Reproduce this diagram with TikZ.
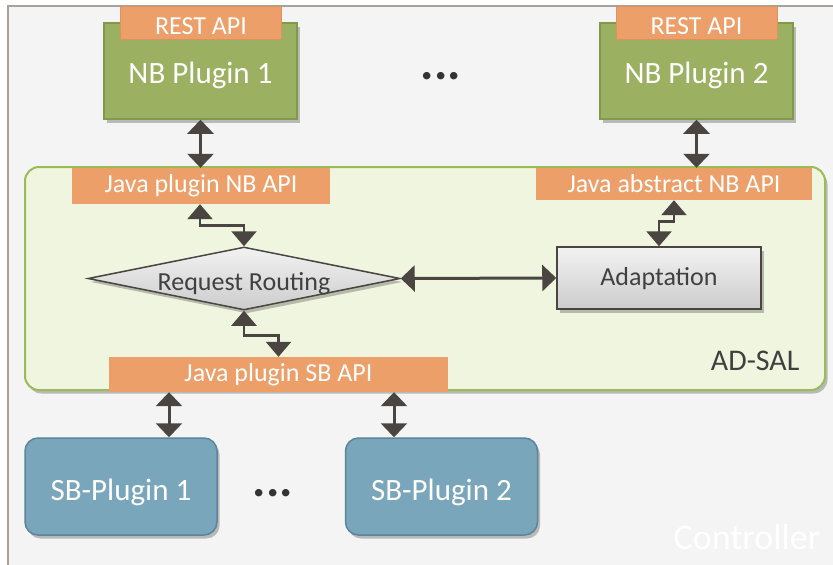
\documentclass[tikz,border=0pt]{standalone}
\usepackage{fontspec}
\setmainfont{Carlito}
\usetikzlibrary{arrows.meta,shapes.geometric,shadows,calc}
\definecolor{bgc}{HTML}{F4F4F4}
\definecolor{framec}{HTML}{A8A19B}
\definecolor{orangec}{HTML}{EC9F68}
\definecolor{nbfill}{HTML}{9BB060}
\definecolor{nbdraw}{HTML}{7F9A4C}
\definecolor{adfill}{HTML}{EFF5DF}
\definecolor{addraw}{HTML}{9BBB59}
\definecolor{sbfill}{HTML}{79A6BA}
\definecolor{sbdraw}{HTML}{5B8599}
\definecolor{arrowc}{HTML}{4A4541}
\definecolor{darktext}{HTML}{404040}
\tikzset{
  fs/.style={font=\fontsize{#1}{#1}\selectfont},
  shad/.style={drop shadow={opacity=0.35,shadow xshift=2.5pt,shadow yshift=-3.5pt,fill=black!70}},
  nbbox/.style={draw=nbdraw,fill=nbfill,line width=1.5pt,minimum width=193pt,minimum height=96pt,inner sep=0pt,text=white,fs=31,text height=24pt,text depth=0pt,shad},
  tab/.style={fill=orangec,draw=orangec!92!black,line width=0.6pt,inner sep=0pt,text=white,fs=26,text height=23pt,text depth=0pt},
  apitab/.style={fill=orangec,inner sep=0pt,text=white,fs=26},
  sbbox/.style={draw=sbdraw,fill=sbfill,line width=1.5pt,rounded corners=13pt,minimum width=192pt,minimum height=97pt,inner sep=0pt,text=white,fs=31,text height=27pt,text depth=0pt,shad},
  dbl/.style={draw=arrowc,line width=3pt,{Triangle[width=26pt,length=14pt]}-{Triangle[width=26pt,length=14pt]}},
  zz/.style={draw=arrowc,line width=2.6pt,{Triangle[width=25pt,length=15pt]}-{Triangle[width=25pt,length=15pt]}},
  graybox/.style={draw=arrowc,line width=1.5pt,top color=black!5,bottom color=black!20,text=darktext,fs=26,inner sep=0pt,text depth=0pt,shad},
  dots/.style={text=black!80,font=\bfseries\fontsize{50}{50}\selectfont,anchor=base,inner sep=0pt}
}
\begin{document}
\begin{tikzpicture}[x=1pt,y=-1pt]
\useasboundingbox (0,0) rectangle (833,565);
\clip (0,0) rectangle (833,565);
\fill[white] (0,0) rectangle (833,565);
\draw[framec,fill=bgc,line width=2pt] (8,6) rectangle (850,580);

% NB plugins
\node[nbbox] (nb1) at (200.5,71) {NB Plugin 1};
\node[nbbox] (nb2) at (696.5,71) {NB Plugin 2};
\node[tab,minimum width=161pt,minimum height=33pt] (rest1) at (201,22.5) {REST API};
\node[tab,minimum width=161pt,minimum height=33pt] (rest2) at (696.5,22.5) {REST API};
\node[dots] (ndots) at (441,79) {...};

% AD-SAL container
\node[draw=addraw,fill=adfill,line width=2pt,rounded corners=14pt,minimum width=800pt,minimum height=223pt,inner sep=0pt,shad] (adsal) at (425,278.5) {};
\node[text=darktext,fs=30,anchor=east] (adlabel) at (803,361) {AD-SAL};

\node[apitab,minimum width=258pt,minimum height=36pt] (nbapi) at (201,186) {Java plugin NB API};
\node[apitab,minimum width=276pt,minimum height=32pt] (absapi) at (674,184) {Java abstract NB API};
\node[apitab,minimum width=339pt,minimum height=35pt] (sbapi) at (278.5,374.5) {Java plugin SB API};

% Request routing and adaptation
\node[graybox,diamond,shape aspect=4.95,minimum width=312pt,minimum height=63pt,text height=23pt] (rr) at (244,278.5) {Request Routing};
\node[graybox,minimum width=204pt,minimum height=62pt,text height=14pt] (adapt) at (659,278) {Adaptation};

% SB plugins
\node[sbbox] (sb1) at (121,486.5) {SB-Plugin 1};
\node[sbbox] (sb2) at (441.5,486.5) {SB-Plugin 2};
\node[dots] (sdots) at (273,496) {...};

\node[text=white,fs=36] (ctrl) at (747,537) {Controller};

% connectors
\draw[dbl] (nb1.south) -- (nb1.south |- nbapi.north);
\draw[dbl] (nb2.south) -- (nb2.south |- absapi.north);
\draw[zz] ([xshift=-1pt]nbapi.south) -- ++(0,21) -| (rr.north);
\draw[zz] (absapi.south) -- ++(0,21) -| (adapt.north);
\draw[zz] (rr.south) -- ++(0,25) -| (sbapi.north);
\draw[dbl] (rr.east) -- (adapt.west);
\coordinate (a1) at ([xshift=48pt]sb1.north);
\coordinate (a2) at ([xshift=-47.5pt]sb2.north);
\draw[dbl] (a1 |- sbapi.south) -- (a1);
\draw[dbl] (a2 |- sbapi.south) -- (a2);
\end{tikzpicture}
\end{document}
